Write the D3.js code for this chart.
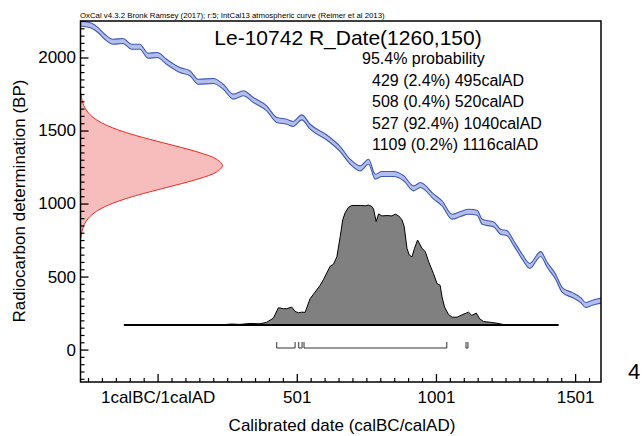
<!DOCTYPE html>
<html>
<head>
<meta charset="utf-8">
<script src="https://cdn.jsdelivr.net/npm/d3@7"></script>
<style>
  html, body { margin: 0; padding: 0; background: #fff; }
  svg { display: block; }
  text { font-family: "Liberation Sans", Arial, sans-serif; fill: #000; }
</style>
</head>
<body>
<script>
// ---------- DATA ----------
const headerText = "OxCal v4.3.2 Bronk Ramsey (2017); r:5; IntCal13 atmospheric curve (Reimer et al 2013)";
const sampleName = "Le-10742 R_Date(1260,150)";
const probLabel = "95.4% probability";

// IntCal13 calibration curve (calendar year AD, radiocarbon BP)
const curveYears = [-276,-236,-213,-189,-159,-123,-93,-63,-33,0,33,81,117,147,201,237,273,309,345,393,429,465,488,519,549,609,657,693,729,759,783,807,849,885,921,945,993,1023,1059,1089,1119,1149,1167,1209,1233,1257,1281,1311,1338,1377,1401,1431,1455,1491,1521,1539,1563,1596];
const curveBP    = [2233,2218,2188,2142,2108,2113,2074,2074,2012,2017,1971,1914,1892,1834,1839,1800,1732,1755,1709,1652,1572,1560,1545,1590,1526,1452,1373,1286,1241,1286,1184,1202,1202,1173,1104,1127,1047,1001,910,928,944,937,875,856,807,796,727,636,572,654,579,499,408,373,339,305,321,336];
const curveSigma = 17;

// Radiocarbon measurement distribution (BP, relative probability)
const rdBP   = [765,810,855,900,945,990,1035,1080,1125,1170,1215,1260,1305,1350,1395,1440,1485,1530,1575,1620,1665,1710,1755];
const rdProb = [0.004,0.011,0.026,0.056,0.110,0.198,0.325,0.487,0.667,0.835,0.956,1,0.956,0.835,0.667,0.487,0.325,0.198,0.110,0.056,0.026,0.011,0.004];

// Calibrated distribution (calendar year AD, relative probability)
const postYears = [-120,225,243,265,297,333,369,393,417,435,453,465,483,495,507,519,531,549,567,585,597,609,621,633,645,657,666,675,687,699,729,747,759,771,777,786,795,807,825,843,855,867,879,887,897,905,915,924,935,951,963,975,992,1005,1016,1023,1032,1046,1059,1077,1095,1118,1130,1146,1158,1172,1196,1220,1244,1268,1441];
const postProb  = [0,0,0.003,0.008,0.005,0.013,0.01,0.023,0.057,0.144,0.136,0.136,0.149,0.113,0.102,0.107,0.105,0.22,0.275,0.331,0.379,0.434,0.49,0.507,0.568,0.736,0.876,0.937,0.982,0.996,0.996,0.993,1.0,0.987,0.966,0.862,0.926,0.909,0.912,0.909,0.924,0.909,0.876,0.82,0.639,0.583,0.568,0.639,0.708,0.639,0.61,0.526,0.429,0.345,0.331,0.233,0.149,0.088,0.065,0.065,0.085,0.107,0.08,0.099,0.052,0.029,0.023,0.015,0.004,0,0];

// 95.4% ranges
const rangeFrom = [429, 508, 527, 1109];
const rangeTo   = [495, 520, 1040, 1116];
const rangePct  = ["2.4", "0.4", "92.4", "0.2"];

// Axes
const xTickValues = [1, 501, 1001, 1501];
const xTickLabels = ["1calBC/1calAD", "501", "1001", "1501"];
const yTickValues = [0, 500, 1000, 1500, 2000];
const xTitle = "Calibrated date (calBC/calAD)";
const yTitle = "Radiocarbon determination (BP)";
const xDomain = [-276, 1594];
const yDomain = [-222, 2250];

// ---------- LAYOUT ----------
const W = 643, H = 436;
const L = 80.5, R = 601, T = 21, B = 382;

const svg = d3.select("body").append("svg").attr("width", W).attr("height", H);

const x = d3.scaleLinear().domain(xDomain).range([L, R]);
const y = d3.scaleLinear().domain(yDomain).range([B, T]);
const rdW = d3.scaleLinear().domain([0, 1]).range([L, L + 142]);
const postH = d3.scaleLinear().domain([0, 1]).range([325, 205]);

svg.append("clipPath").attr("id", "plotclip")
  .append("rect").attr("x", L).attr("y", T).attr("width", R - L).attr("height", B - T);
const plot = svg.append("g").attr("clip-path", "url(#plotclip)");

// Calibration curve band
const curve = curveYears.map((yr, i) => ({ yr, bp: curveBP[i] }));
plot.append("path").datum(curve)
  .attr("d", d3.area().curve(d3.curveMonotoneX)
    .x(d => x(d.yr)).y0(d => y(d.bp - curveSigma)).y1(d => y(d.bp + curveSigma)))
  .attr("fill", "#b3bfea").attr("stroke", "none");
[-1, 1].forEach(s => {
  plot.append("path").datum(curve)
    .attr("d", d3.line().curve(d3.curveMonotoneX).x(d => x(d.yr)).y(d => y(d.bp + s * curveSigma)))
    .attr("fill", "none").attr("stroke", "#3f58b8").attr("stroke-width", 1.1);
});

// Radiocarbon date distribution (red)
const rd = rdBP.map((bp, i) => ({ bp, p: rdProb[i] }));
plot.append("path").datum(rd)
  .attr("d", d3.area().curve(d3.curveCatmullRom).y(d => y(d.bp)).x0(L).x1(d => rdW(d.p)))
  .attr("fill", "#f7bcbc");
plot.append("path").datum(rd)
  .attr("d", d3.line().curve(d3.curveCatmullRom).y(d => y(d.bp)).x(d => rdW(d.p)))
  .attr("fill", "none").attr("stroke", "#ee2a22").attr("stroke-width", 1);

// Calibrated distribution (grey)
const post = postYears.map((yr, i) => ({ yr, p: postProb[i] }));
plot.append("path").datum(post)
  .attr("d", d3.area().x(d => x(d.yr)).y0(postH(0)).y1(d => postH(d.p)))
  .attr("fill", "#808080").attr("stroke", "#000").attr("stroke-width", 1).attr("stroke-linejoin", "round");
plot.append("line")
  .attr("x1", x(postYears[0])).attr("x2", x(postYears[postYears.length - 1]))
  .attr("y1", postH(0)).attr("y2", postH(0))
  .attr("stroke", "#000").attr("stroke-width", 2);

// Range brackets
const brTop = 342, brBot = 348;
rangeFrom.forEach((f, i) => {
  const x0 = x(f), x1 = x(rangeTo[i]);
  plot.append("path")
    .attr("d", `M${x0},${brTop}V${brBot}H${x1}V${brTop}`)
    .attr("fill", "none").attr("stroke", "#333").attr("stroke-width", 1);
});

// ---------- AXES ----------
const yMinor = d3.range(-200, 2251, 50).filter(v => v % 500 !== 0);
svg.append("g").attr("transform", `translate(${L},0)`)
  .call(d3.axisLeft(y).tickValues(yMinor).tickSizeInner(-4).tickSizeOuter(0).tickFormat(""))
  .call(g => g.select(".domain").remove())
  .call(g => g.selectAll("line").attr("stroke-width", 1.2));
svg.append("g").attr("transform", `translate(${L},0)`)
  .call(d3.axisLeft(y).tickValues(yTickValues).tickSizeInner(-8).tickSizeOuter(0).tickPadding(4.5).tickFormat(d3.format("d")))
  .call(g => g.select(".domain").remove())
  .call(g => g.selectAll("line").attr("stroke-width", 1.3))
  .call(g => g.selectAll("text").attr("font-size", 17).attr("font-family", "Liberation Sans, Arial, sans-serif").attr("fill", "#000"));

const xMinor = d3.range(-249, 1594, 50).filter(v => (v - 1) % 500 !== 0);
svg.append("g").attr("transform", `translate(0,${B})`)
  .call(d3.axisBottom(x).tickValues(xMinor).tickSizeInner(-4).tickSizeOuter(0).tickFormat(""))
  .call(g => g.select(".domain").remove())
  .call(g => g.selectAll("line").attr("stroke-width", 1.2));
svg.append("g").attr("transform", `translate(0,${B})`)
  .call(d3.axisBottom(x).tickValues(xTickValues).tickSizeInner(-8).tickSizeOuter(0).tickPadding(9)
    .tickFormat((d, i) => xTickLabels[i]))
  .call(g => g.select(".domain").remove())
  .call(g => g.selectAll("line").attr("stroke-width", 1.3))
  .call(g => g.selectAll("text").attr("font-size", 17).attr("font-family", "Liberation Sans, Arial, sans-serif").attr("fill", "#000"));

// Frame
svg.append("rect").attr("x", L).attr("y", T).attr("width", R - L).attr("height", B - T)
  .attr("fill", "none").attr("stroke", "#000").attr("stroke-width", 1.5);

// ---------- TEXT ----------
svg.append("text").attr("x", 80).attr("y", 18).attr("font-size", 7.8).text(headerText);
svg.append("text").attr("x", 348).attr("y", 45).attr("text-anchor", "middle").attr("font-size", 21).text(sampleName);
svg.append("text").attr("x", 362).attr("y", 64).attr("font-size", 16).text(probLabel);
rangeFrom.forEach((f, i) => {
  svg.append("text").attr("x", 372).attr("y", 85.5 + i * 21.5).attr("font-size", 16)
    .text(`${f} (${rangePct[i]}%) ${rangeTo[i]}calAD`);
});
svg.append("text").attr("transform", "translate(25,201) rotate(-90)").attr("text-anchor", "middle")
  .attr("font-size", 17).text(yTitle);
svg.append("text").attr("x", 342).attr("y", 431).attr("text-anchor", "middle").attr("font-size", 17).text(xTitle);
svg.append("text").attr("x", 628).attr("y", 379).attr("font-size", 22)
  .attr("font-family", "Noto Sans, sans-serif").attr("fill", "#222").text("4");
</script>
</body>
</html>
